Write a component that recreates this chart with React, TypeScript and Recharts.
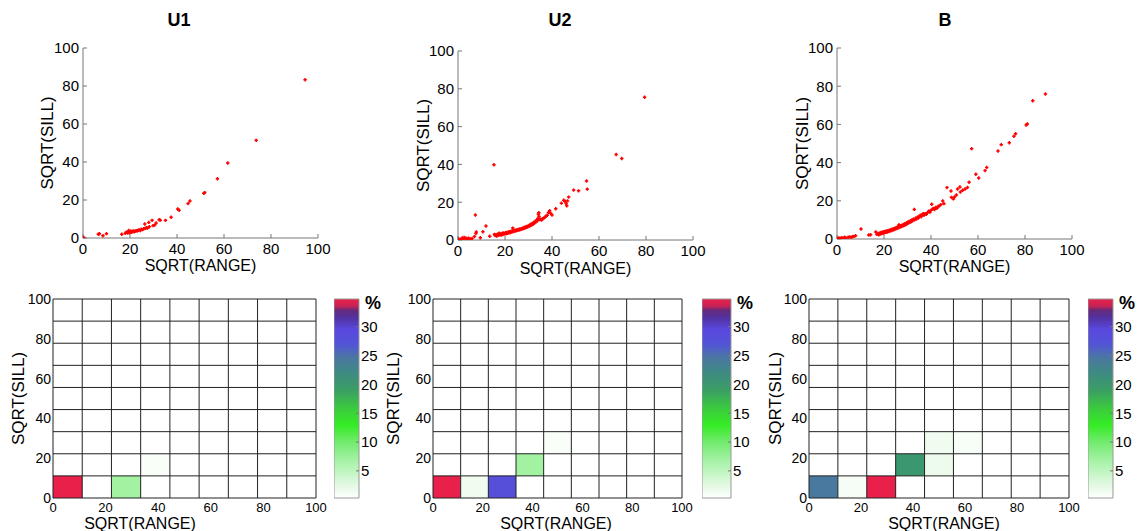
import React from 'react';
import { ScatterChart, Scatter, XAxis, YAxis, ReferenceArea, ReferenceLine } from 'recharts';

const FONT = "'Liberation Sans Narrow', 'Arial Narrow', 'Liberation Sans', Arial, sans-serif";

const titles = ['U1', 'U2', 'B'];
const axisTicks = [0, 20, 40, 60, 80, 100];
const barTicks = [5, 10, 15, 20, 25, 30];
const barMin = 0.3;
const barMax = 34.8;
const bins = 9;

// [SQRT(RANGE), SQRT(SILL)]
const u1Points: number[][] = [
  [0.3, 0.3], [6.5, 2.0], [7.0, 2.2], [8.5, 1.2], [10.0, 2.3], [16.5, 2.0], [18.0, 2.5], [18.5, 3.0],
  [19.0, 2.6], [19.2, 3.3], [19.5, 4.0], [19.8, 2.8], [20.0, 3.1], [20.3, 3.6], [20.7, 3.0], [21.0, 3.4],
  [21.4, 3.7], [21.8, 3.2], [22.2, 3.6], [22.6, 3.9], [23.0, 3.7], [23.5, 4.1], [24.0, 4.3], [24.4, 3.9],
  [24.8, 4.6], [25.3, 4.4], [25.8, 4.9], [26.3, 7.4], [26.5, 5.1], [27.0, 5.4], [27.5, 5.2], [28.0, 8.2],
  [28.2, 5.9], [29.4, 9.3], [29.8, 6.5], [30.5, 6.8], [31.1, 7.9], [32.4, 9.6], [32.9, 9.4], [35.1, 9.3],
  [37.5, 10.9], [40.3, 15.3], [40.9, 14.6], [44.7, 18.1], [45.5, 19.5], [51.4, 23.5], [51.8, 23.9],
  [57.2, 31.2], [61.6, 39.5], [73.7, 51.4], [94.5, 83.3],
];

const u2Points: number[][] = [
  [0.3, 0.5], [1.2, 0.4], [1.8, 1.1], [2.2, 0.6], [2.6, 1.3], [3.0, 0.8], [3.4, 1.0], [3.9, 0.6],
  [4.5, 0.9], [5.2, 0.5], [6.0, 0.8], [7.0, 1.8], [7.4, 13.2], [7.6, 3.4], [7.8, 4.2], [9.5, 1.2],
  [10.6, 4.4], [11.9, 7.4], [13.5, 2.0], [15.3, 39.8], [15.5, 3.0], [15.8, 2.4], [16.2, 2.8], [16.5, 2.1],
  [16.9, 3.1], [17.2, 2.5], [17.5, 3.6], [17.8, 2.7], [18.1, 3.2], [18.4, 2.6], [18.7, 3.4], [19.0, 2.9],
  [19.3, 3.7], [19.6, 3.1], [19.9, 3.5], [20.2, 3.8], [20.5, 3.3], [20.8, 4.0], [21.1, 3.6], [21.4, 4.2],
  [21.7, 3.8], [22.0, 4.4], [22.3, 4.0], [22.6, 4.6], [22.9, 4.2], [23.2, 4.8], [23.3, 6.3], [23.6, 4.5],
  [23.9, 5.0], [24.2, 4.7], [24.5, 5.2], [24.8, 4.9], [25.1, 5.4], [25.4, 5.1], [25.7, 5.6], [26.0, 5.3],
  [26.3, 5.8], [26.6, 5.5], [26.9, 6.0], [27.2, 5.8], [27.5, 6.3], [27.8, 6.0], [28.1, 6.6], [28.4, 6.3],
  [28.7, 6.9], [29.0, 6.6], [29.3, 7.2], [29.6, 6.9], [29.9, 7.5], [30.2, 7.2], [30.5, 7.9], [30.8, 7.6],
  [31.1, 8.3], [31.4, 8.0], [31.7, 8.8], [32.0, 8.5], [32.3, 9.3], [32.6, 9.0], [32.9, 9.9], [33.2, 9.6],
  [33.5, 10.6], [33.8, 10.2], [34.0, 11.4], [34.2, 13.6], [34.4, 14.4], [34.5, 12.4], [34.8, 10.8],
  [35.2, 11.0], [35.6, 10.6], [36.0, 11.3], [36.5, 11.6], [37.0, 12.0], [37.5, 12.6], [38.0, 13.1],
  [38.5, 14.6], [39.0, 15.5], [39.4, 14.1], [40.0, 13.2], [41.6, 16.5], [44.0, 19.5], [45.0, 21.0],
  [45.5, 20.5], [46.0, 19.3], [46.3, 18.1], [46.6, 20.7], [47.1, 22.7], [49.2, 26.4], [51.3, 26.0],
  [54.7, 31.2], [55.0, 26.9], [67.3, 45.2], [69.7, 43.1], [79.4, 75.5],
];

const bPoints: number[][] = [
  [0.3, 0.3], [0.8, 0.6], [1.5, 0.4], [2.1, 0.7], [2.6, 0.3], [3.2, 0.9], [3.8, 0.6], [4.7, 0.8],
  [5.3, 1.1], [6.0, 0.9], [6.6, 1.2], [7.2, 1.4], [7.9, 1.7], [10.2, 5.2], [13.5, 2.1], [14.3, 2.2],
  [16.5, 3.7], [17.0, 2.4], [17.4, 2.9], [17.8, 2.2], [18.1, 3.1], [18.4, 2.6], [18.7, 3.4], [19.0, 2.8],
  [19.3, 3.6], [19.6, 3.0], [19.9, 3.8], [20.2, 3.2], [20.5, 4.0], [20.8, 3.5], [21.1, 4.2], [21.4, 3.7],
  [21.7, 4.4], [22.0, 3.9], [22.3, 4.6], [22.6, 4.2], [22.9, 4.9], [23.2, 4.4], [23.5, 5.1], [23.8, 4.7],
  [24.1, 5.4], [24.4, 5.0], [24.7, 5.7], [25.0, 5.3], [25.3, 6.0], [25.6, 5.6], [25.9, 6.3], [26.2, 5.9],
  [26.4, 7.5], [26.5, 6.6], [26.8, 6.2], [27.1, 6.9], [27.4, 6.5], [27.7, 7.2], [28.0, 6.8], [28.3, 7.6],
  [28.6, 7.2], [28.9, 8.0], [29.2, 7.5], [29.5, 8.4], [29.8, 7.9], [30.1, 8.8], [30.4, 8.3], [30.7, 9.2],
  [31.0, 8.7], [31.3, 9.6], [31.6, 9.1], [31.9, 10.0], [32.2, 9.5], [32.5, 10.4], [32.9, 15.5], [33.0, 10.0],
  [33.4, 10.9], [33.8, 10.5], [34.2, 11.4], [34.6, 11.0], [35.0, 11.9], [35.5, 12.4], [35.8, 11.6],
  [36.2, 12.6], [36.7, 13.3], [37.0, 12.4], [37.5, 13.3], [38.0, 12.9], [38.5, 13.8], [39.0, 14.5],
  [39.5, 14.0], [40.0, 15.0], [40.3, 18.2], [40.6, 15.6], [41.0, 16.0], [41.5, 15.4], [42.0, 16.5],
  [42.5, 16.1], [43.0, 17.0], [43.6, 17.4], [44.2, 18.0], [45.0, 19.9], [45.5, 18.5], [46.8, 26.9],
  [48.5, 25.1], [48.7, 21.8], [49.5, 21.0], [50.0, 22.0], [50.8, 23.0], [51.3, 26.2], [52.3, 27.2],
  [52.5, 24.6], [53.5, 25.5], [54.5, 26.2], [55.5, 27.0], [56.2, 29.7], [57.3, 47.3], [59.1, 33.9],
  [60.3, 31.9], [63.0, 35.8], [63.7, 37.5], [68.5, 46.1], [69.9, 49.4], [73.3, 50.4], [75.3, 53.8],
  [76.0, 55.1], [80.5, 59.7], [81.0, 60.2], [83.3, 72.4], [88.7, 75.9],
];

// heatmap cells: [column, row, percent]
const u1Cells: number[][] = [[0, 0, 36], [2, 0, 7], [3, 1, 0.8]];
const u2Cells: number[][] = [[0, 0, 36], [1, 0, 1.4], [2, 0, 28], [3, 1, 7], [4, 2, 0.8]];
const bCells: number[][] = [[0, 0, 24.3], [1, 0, 1], [2, 0, 36], [3, 1, 20], [4, 1, 1.8], [4, 2, 1.4], [5, 2, 0.9]];

// colour map: [percent, colour]
const cmap: [number, string][] = [
  [0.3, '#ffffff'], [3, '#dcf8dc'], [7, '#a2f2a2'], [10, '#72ea6e'], [13, '#34ec24'], [16, '#3cc840'],
  [19, '#3a9e64'], [22, '#3e8a82'], [24.5, '#4a78a0'], [27, '#5254d6'], [29.5, '#5a48e0'],
  [31.5, '#5232a2'], [32.8, '#642a7c'], [33.6, '#c82254'], [34.8, '#e8204a'],
];

const hexToRgb = (h: string) => [1, 3, 5].map((i) => parseInt(h.slice(i, i + 2), 16));

const colorFor = (v: number) => {
  if (v <= cmap[0][0]) return cmap[0][1];
  for (let i = 1; i < cmap.length; i++) {
    if (v <= cmap[i][0]) {
      const [v0, c0] = cmap[i - 1];
      const [v1, c1] = cmap[i];
      const t = (v - v0) / (v1 - v0);
      const a = hexToRgb(c0);
      const b = hexToRgb(c1);
      return `rgb(${a.map((x, k) => Math.round(x + (b[k] - x) * t)).join(',')})`;
    }
  }
  return cmap[cmap.length - 1][1];
};

const PlusMark = (props: any) => {
  const { cx, cy } = props;
  if (cx == null || cy == null) return null;
  return (
    <path
      d={`M${cx - 1.7},${cy}H${cx + 1.7}M${cx},${cy - 1.7}V${cy + 1.7}`}
      stroke="#ff0000"
      strokeWidth={1.5}
    />
  );
};

const tickStyle = (size: number) => ({ fill: '#000', fontSize: size, fontFamily: FONT });

interface ScatterPanelProps {
  points: number[][];
  left: number;
  top: number;
  w: number;
  h: number;
}

const ScatterPanel: React.FC<ScatterPanelProps> = ({ points, left, top, w, h }) => {
  const yw = 40;
  const m = 10;
  const xh = 24;
  const r = 16;
  const data = points.map(([x, y]) => ({ x, y }));
  return (
    <div style={{ position: 'absolute', left: left - yw, top: top - m }}>
      <ScatterChart width={yw + w + r} height={m + h + xh} margin={{ top: m, right: r, bottom: 0, left: 0 }}>
        <XAxis xAxisId="b" type="number" dataKey="x" domain={[0, 100]} ticks={axisTicks} interval={0}
          height={xh} tickSize={-4} tickMargin={9} stroke="#777" tick={tickStyle(15)} allowDataOverflow />
        <XAxis xAxisId="t" orientation="top" type="number" domain={[0, 100]} ticks={axisTicks} interval={0}
          height={0} tickSize={-4} tick={false} stroke="#888" allowDataOverflow />
        <YAxis yAxisId="l" type="number" dataKey="y" domain={[0, 100]} ticks={axisTicks} interval={0}
          width={yw} tickSize={-4} tickMargin={8} stroke="#777" tick={tickStyle(15)} allowDataOverflow />
        <YAxis yAxisId="r" orientation="right" type="number" domain={[0, 100]} ticks={axisTicks} interval={0}
          width={0} tickSize={-4} tick={false} stroke="#888" allowDataOverflow />
        <Scatter xAxisId="b" yAxisId="l" data={data} shape={PlusMark} isAnimationActive={false} />
      </ScatterChart>
    </div>
  );
};

interface HeatPanelProps {
  cells: number[][];
  left: number;
  top: number;
  w: number;
  h: number;
}

const HeatPanel: React.FC<HeatPanelProps> = ({ cells, left, top, w, h }) => {
  const yw = 30;
  const m = 8;
  const xh = 18;
  const r = 14;
  const step = 100 / bins;
  const edges = Array.from({ length: bins + 1 }, (_, i) => i * step);
  const centers = cells.map(([c, row, v]) => ({ x: (c + 0.5) * step, y: (row + 0.5) * step, v }));
  return (
    <div style={{ position: 'absolute', left: left - yw, top: top - m }}>
      <ScatterChart width={yw + w + r} height={m + h + xh} margin={{ top: m, right: r, bottom: 0, left: 0 }}>
        <XAxis type="number" dataKey="x" domain={[0, 100]} ticks={axisTicks} interval={0} height={xh}
          tickSize={0} tickMargin={5} axisLine={false} tick={tickStyle(13)} allowDataOverflow />
        <YAxis type="number" dataKey="y" domain={[0, 100]} ticks={axisTicks} interval={0} width={yw}
          tickSize={0} tickMargin={2} axisLine={false} tick={tickStyle(14)} allowDataOverflow />
        {cells.map(([c, row, v]) => (
          <ReferenceArea key={`c${c}-${row}`} x1={c * step} x2={(c + 1) * step} y1={row * step} y2={(row + 1) * step}
            fill={colorFor(v)} fillOpacity={1} stroke="none" ifOverflow="visible" />
        ))}
        {edges.map((e) => (
          <ReferenceLine key={`x${e}`} x={e} stroke="#222" strokeWidth={1} ifOverflow="visible" />
        ))}
        {edges.map((e) => (
          <ReferenceLine key={`y${e}`} y={e} stroke="#222" strokeWidth={1} ifOverflow="visible" />
        ))}
        <Scatter data={centers} fill="none" isAnimationActive={false} />
      </ScatterChart>
    </div>
  );
};

interface ColorBarProps {
  left: number;
  top: number;
  w: number;
  h: number;
}

const ColorBar: React.FC<ColorBarProps> = ({ left, top, w, h }) => (
  <div style={{ position: 'absolute', left, top: top - 8 }}>
    <ScatterChart width={w + 30} height={h + 16} margin={{ top: 8, right: 0, bottom: 8, left: 0 }}>
      <XAxis type="number" dataKey="x" domain={[0, 1]} hide />
      <YAxis type="number" dataKey="y" orientation="right" domain={[barMin, barMax]} ticks={barTicks} interval={0}
        width={30} tickSize={-3} tickMargin={5} axisLine={false} stroke="#777" tick={tickStyle(15)} allowDataOverflow />
      <ReferenceArea x1={0} x2={1} y1={barMin} y2={barMax} fill="url(#cbar)" fillOpacity={1} stroke="#999" />
      <Scatter data={barTicks.map((v) => ({ x: 0.5, y: v }))} fill="none" isAnimationActive={false} />
    </ScatterChart>
  </div>
);

const topPanels = [
  { points: u1Points, left: 83, top: 48, w: 235, h: 190, titleX: 179, yLabelX: 47, xLabelY: 265 },
  { points: u2Points, left: 458, top: 51, w: 235, h: 189, titleX: 560, yLabelX: 423, xLabelY: 268 },
  { points: bPoints, left: 837, top: 48, w: 235, h: 191, titleX: 945, yLabelX: 802, xLabelY: 266 },
];

const bottomPanels = [
  { cells: u1Cells, left: 53, top: 299, w: 263, h: 199, barLeft: 334, barW: 25, yLabelX: 18, xLabelX: 140 },
  { cells: u2Cells, left: 433, top: 299, w: 249, h: 199, barLeft: 702, barW: 29, yLabelX: 393, xLabelX: 556 },
  { cells: bCells, left: 809, top: 299, w: 260, h: 199, barLeft: 1088, barW: 25, yLabelX: 775, xLabelX: 944 },
];

export default function App() {
  const label = (size: number, weight = 'normal') => ({
    fontFamily: FONT,
    fontSize: size,
    fontWeight: weight,
    fill: '#000',
    textAnchor: 'middle' as const,
    dominantBaseline: 'central' as const,
  });
  return (
    <div style={{ position: 'absolute', left: 0, top: 0, width: 1139, height: 531, background: '#fff' }}>
      {topPanels.map((p, i) => (
        <ScatterPanel key={titles[i]} points={p.points} left={p.left} top={p.top} w={p.w} h={p.h} />
      ))}
      {bottomPanels.map((p, i) => (
        <React.Fragment key={`h${titles[i]}`}>
          <HeatPanel cells={p.cells} left={p.left} top={p.top} w={p.w} h={p.h} />
          <ColorBar left={p.barLeft} top={p.top} w={p.barW} h={p.h} />
        </React.Fragment>
      ))}
      <svg width={1139} height={531} style={{ position: 'absolute', left: 0, top: 0, pointerEvents: 'none' }}>
        <defs>
          <linearGradient id="cbar" x1="0" y1="0" x2="0" y2="1">
            {[...cmap].reverse().map(([v, c]) => (
              <stop key={v} offset={(barMax - v) / (barMax - barMin)} stopColor={c} />
            ))}
          </linearGradient>
        </defs>
        {topPanels.map((p, i) => (
          <g key={`t${i}`}>
            <text x={p.titleX} y={20} {...label(18, 'bold')}>{titles[i]}</text>
            <text x={p.left + p.w / 2} y={p.xLabelY} {...label(16)}>SQRT(RANGE)</text>
            <text x={p.yLabelX} y={p.top + p.h / 2} transform={`rotate(-90 ${p.yLabelX} ${p.top + p.h / 2})`} {...label(17)}>
              SQRT(SILL)
            </text>
          </g>
        ))}
        {bottomPanels.map((p, i) => (
          <g key={`b${i}`}>
            <text x={p.xLabelX} y={523} {...label(16)}>SQRT(RANGE)</text>
            <text x={p.yLabelX} y={p.top + p.h / 2} transform={`rotate(-90 ${p.yLabelX} ${p.top + p.h / 2})`} {...label(17)}>
              SQRT(SILL)
            </text>
            <text x={p.barLeft + p.barW + 14} y={303} {...label(18, 'bold')}>%</text>
          </g>
        ))}
      </svg>
    </div>
  );
}
